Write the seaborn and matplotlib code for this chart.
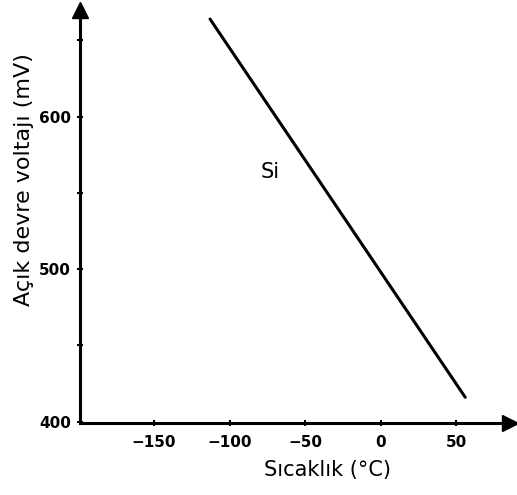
import pandas as pd
import numpy as np
import seaborn as sns
import matplotlib.pyplot as plt

# Si open-circuit voltage vs temperature
temperature = [-113, 56]
voltage = [664, 416]
x_ticks = [-150, -100, -50, 0, 50]
y_ticks = [400, 500, 600]
y_minor = [450, 550, 650]
curve_label = "Si"

sns.set_theme(style="white")
plt.rcParams['font.family'] = ['DejaVu Sans']
plt.rcParams['text.color'] = 'black'
plt.rcParams['axes.labelcolor'] = 'black'

fig = plt.figure(figsize=(5.17, 4.95), dpi=100)
ax = fig.add_axes([0.155, 0.145, 0.815, 0.835])

df = pd.DataFrame({"T": temperature, "V": voltage})
sns.lineplot(data=df, x="T", y="V", color="black", linewidth=2.2, ax=ax)

ax.set_xlim(-199, 80)
ax.set_ylim(399, 670)

for s in ["top", "right"]:
    ax.spines[s].set_visible(False)
for s in ["left", "bottom"]:
    ax.spines[s].set_color("black")
    ax.spines[s].set_linewidth(2.2)

# arrow heads on the axes
ax.plot(1.02, 399, ">", color="black", markersize=11, transform=ax.get_yaxis_transform(), clip_on=False)
ax.plot(-199, 1.0, "^", color="black", markersize=11, transform=ax.get_xaxis_transform(), clip_on=False)

ax.set_xticks(x_ticks)
ax.set_xticklabels(["\u2212150", "\u2212100", "\u221250", "0", "50"])
ax.set_yticks(y_ticks)
ax.set_yticks(y_minor, minor=True)
ax.tick_params(axis="both", which="both", direction="inout", length=5, width=1.5,
               colors="black", labelsize=11, pad=4, bottom=True, left=True)
ax.tick_params(axis="x", pad=6)
for lab in ax.get_xticklabels() + ax.get_yticklabels():
    lab.set_fontweight("bold")

ax.set_xlabel("Sıcaklık (°C)", fontsize=15)
ax.xaxis.set_label_coords(0.587, -0.09)
ax.set_ylabel("Açık devre voltajı (mV)", fontsize=16)
ax.yaxis.set_label_coords(-0.11, 0.59)

ax.text(-73, 564, curve_label, fontsize=15, ha="center", va="center")

plt.savefig("out.png", dpi=100)
